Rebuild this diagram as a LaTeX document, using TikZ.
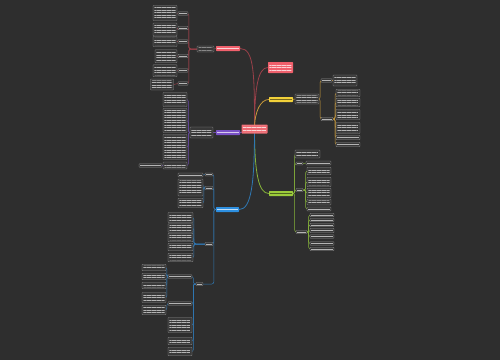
\documentclass[tikz,border=0pt]{standalone}
\usetikzlibrary{patterns.meta}
\definecolor{bgc}{HTML}{2E2E2E}
\definecolor{boxf}{HTML}{383838}
\definecolor{boxd}{HTML}{8C8C8C}
\definecolor{txtc}{HTML}{B4B4B4}
\definecolor{redn}{HTML}{F0606C}
\definecolor{redl}{HTML}{9A4049}
\definecolor{yeln}{HTML}{F2D13A}
\definecolor{yell}{HTML}{C99A3A}
\definecolor{grnn}{HTML}{9CCB3B}
\definecolor{grnl}{HTML}{86B43A}
\definecolor{blun}{HTML}{2D8FE0}
\definecolor{blul}{HTML}{2E78B4}
\definecolor{purn}{HTML}{7A52C7}
\definecolor{purl}{HTML}{6A4AA8}
\definecolor{cenn}{HTML}{EE6B73}
\pgfdeclarelayer{bgl}\pgfdeclarelayer{edg}\pgfsetlayers{bgl,edg,main}
\tikzset{
 multi/.style={path picture={\fill[pattern={Lines[distance=2.5pt,line width=0.8pt]},pattern color=#1] ([shift={(1.4pt,-1.3pt)}]path picture bounding box.north west) rectangle ([shift={(-1.4pt,1.3pt)}]path picture bounding box.south east);}},
 single/.style={path picture={\draw[line width=0.8pt,#1] ([xshift=1.4pt]path picture bounding box.west) -- ([xshift=-1.4pt]path picture bounding box.east);}},
 base/.style 2 args={rectangle, inner sep=0pt, minimum width=#1pt, minimum height=#2pt, rounded corners=0.6pt},
 blk/.style 2 args={base={#1}{#2}, fill=boxf, draw=boxd, line width=0.3pt, multi=txtc},
 lbl/.style 2 args={base={#1}{#2}, fill=boxf, draw=boxd, line width=0.3pt, single=txtc},
 cn/.style n args={3}{base={#2}{#3}, fill=#1},
 mainE/.style={line width=0.8pt},
 subE/.style={line width=0.5pt, rounded corners=2pt},
}
\begin{document}
\begin{tikzpicture}[x=1pt,y=-1pt]
\useasboundingbox (0,0) rectangle (500,360);
\begin{pgfonlayer}{bgl}
\fill[bgc] (0,0) rectangle (500,360);
\end{pgfonlayer}
% center
\node[cn={cenn}{26}{9}, multi=white!72!cenn] (c) at (254.5,129) {};
% main topics
\node[cn={redn}{24}{5}, single=white!72!redn] (r1) at (228,48.5) {};
\node[cn={redn}{25}{11}, multi=white!72!redn] (r2) at (280.5,67.5) {};
\node[cn={yeln}{24}{5}, single=black!50!yeln] (y1) at (281,99.5) {};
\node[cn={purn}{24}{5}, single=white!70!purn] (p1) at (228,132.5) {};
\node[cn={grnn}{24}{5}, single=black!50!grnn] (g1) at (281,193.5) {};
\node[cn={blun}{23}{5}, single=white!70!blun] (b1) at (227.5,209.5) {};
% red subtree
\node[blk={17}{6}] (rt) at (205.5,49) {};
\node[lbl={10}{3.5}] (rl1) at (183,13.5) {};
\node[lbl={10}{3.5}] (rl2) at (183,28) {};
\node[lbl={10}{3.5}] (rl3) at (183,41.5) {};
\node[lbl={10}{3.5}] (rl4) at (183,56) {};
\node[lbl={10}{3.5}] (rl5) at (183,70.5) {};
\node[lbl={10}{3.5}] (rl6) at (183,83.5) {};
\node[blk={24}{15}] (rb1) at (165,13) {};
\node[blk={24}{13}] (rb2) at (165,29.5) {};
\node[blk={24}{10}] (rb3) at (165,41.5) {};
\node[blk={22}{13}] (rb4) at (166,56.3) {};
\node[blk={24}{12}] (rb5) at (165,70.7) {};
\node[blk={23}{11}] (rb6) at (162,84.5) {};
% purple subtree
\node[blk={23}{11}] (pt) at (201.5,132.5) {};
\node[blk={24}{14}] (pb1) at (175,99.5) {};
\node[blk={24}{24}] (pb2) at (175,120.5) {};
\node[blk={24}{25}] (pb3) at (175,147) {};
\node[blk={24}{7}] (pb4) at (175,165.5) {};
\node[lbl={23}{3.5}] (pl) at (150.5,165.5) {};
% yellow subtree
\node[blk={24}{10}] (yt) at (307,99) {};
\node[lbl={11}{3.5}] (yl1) at (326.5,80.5) {};
\node[lbl={12}{3.5}] (yl2) at (327,119) {};
\node[blk={24}{11}] (yb1) at (345,80.5) {};
\node[blk={24}{7.5}] (yc1) at (348,93) {};
\node[blk={24}{8.5}] (yc2) at (348,102.5) {};
\node[blk={24}{10}] (yc3) at (348,114.5) {};
\node[blk={24}{11}] (yc4) at (348,128) {};
\node[lbl={24}{4.5}] (yc5) at (348,137.5) {};
\node[lbl={24}{4.5}] (yc6) at (348,144.5) {};
% green subtree
\node[blk={25}{8}] (gb0) at (307.5,154) {};
\node[lbl={7}{3}] (gl1) at (299.5,163.5) {};
\node[lbl={25}{4}] (gb1) at (318.5,163) {};
\node[lbl={7}{3}] (gl2) at (299.5,190) {};
\node[blk={24}{7.5}] (gc1) at (319,171) {};
\node[blk={24}{9.5}] (gc2) at (319,182) {};
\node[blk={24}{9.5}] (gc3) at (319,193) {};
\node[blk={24}{6}] (gc4) at (319,202) {};
\node[lbl={24}{4}] (gc5) at (319,209) {};
\node[lbl={11}{3}] (gl3) at (301.5,232) {};
\node[lbl={24}{3.5}] (gd1) at (322,215) {};
\node[lbl={24}{3}] (gd2) at (322,220) {};
\node[lbl={24}{3.5}] (gd3) at (322,225) {};
\node[lbl={24}{4.5}] (gd4) at (322,230.5) {};
\node[lbl={24}{3.5}] (gd5) at (322,236.5) {};
\node[lbl={24}{3.5}] (gd6) at (322,243.5) {};
\node[lbl={24}{3.5}] (gd7) at (322,249) {};
% blue subtree
\node[lbl={8}{3}] (bl1) at (209,174.5) {};
\node[lbl={8}{3}] (bl2) at (209,188) {};
\node[lbl={8}{3}] (bl3) at (209,244) {};
\node[lbl={7}{3}] (bl4) at (199.5,284) {};
\node[lbl={25}{4}] (bb1) at (190.5,175) {};
\node[blk={25}{17}] (bb2) at (190.5,187.5) {};
\node[blk={25}{9.5}] (bb3) at (190.5,203) {};
\node[blk={25}{10}] (be1) at (180.5,217.5) {};
\node[blk={25}{8.5}] (be2) at (180.5,228) {};
\node[blk={25}{8.5}] (be3) at (180.5,237.5) {};
\node[blk={25}{7.5}] (be4) at (180.5,247) {};
\node[blk={25}{8.5}] (be5) at (180.5,257.5) {};
\node[lbl={24}{3.5}] (bn1) at (180,276.5) {};
\node[lbl={24}{3.5}] (bn2) at (180,303.5) {};
\node[blk={24}{15}] (bf1) at (180,325) {};
\node[blk={24}{7.5}] (bf2) at (180,341) {};
\node[blk={24}{8.5}] (bf3) at (180,351.5) {};
\node[blk={24}{6.5}] (bg1) at (154,267.5) {};
\node[blk={24}{6.5}] (bg2) at (154,276.5) {};
\node[blk={24}{6.5}] (bg3) at (154,285.5) {};
\node[blk={24}{10}] (bg4) at (154,297.5) {};
\node[blk={24}{9.5}] (bg5) at (154,310) {};
% connectors
\begin{pgfonlayer}{edg}
\draw[mainE,redl] (c.center) to[out=90,in=0,out distance=55pt,in distance=14pt] (r1.east);
\draw[mainE,redl] (c.center) to[out=90,in=180,out distance=40pt,in distance=10pt] (r2.west);
\draw[mainE,yell] (c.center) to[out=90,in=180,out distance=18pt,in distance=8pt] (y1.west);
\draw[mainE,purl] (c.center) to[out=180,in=0] (p1.east);
\draw[mainE,grnl] (c.center) to[out=-90,in=180,out distance=45pt,in distance=10pt] (g1.west);
\draw[mainE,blul] (c.center) to[out=-90,in=0,out distance=55pt,in distance=12pt] (b1.east);
% red
\draw[subE,redl] (r1.west) -- (rt.east);
\foreach \i in {1,...,6}{
 \draw[subE,redl] (rt.west) -- ++(-8,0) |- (rl\i.east);
 \draw[subE,redl] (rl\i.west) -- (rb\i.east);
}
% purple
\draw[subE,purl] (p1.west) -- (pt.east);
\foreach \i in {1,...,4}{\draw[subE,purl] (pt.west) -- ++(-1.5,0) |- (pb\i.east);}
\draw[subE,purl] (pb4.west) -- (pl.east);
% yellow
\draw[subE,yell] (y1.east) -- (yt.west);
\draw[subE,yell] (yt.east) -- ++(1,0) |- (yl1.west);
\draw[subE,yell] (yt.east) -- ++(1,0) |- (yl2.west);
\draw[subE,yell] (yl1.east) -- (yb1.west);
\foreach \i in {1,...,6}{\draw[subE,yell] (yl2.east) -- ++(2,0) |- (yc\i.west);}
% green
\foreach \n in {gb0,gl1,gl2,gl3}{\draw[subE,grnl] (g1.east) -- ++(1.5,0) |- (\n.west);}
\draw[subE,grnl] (gl1.east) -- (gb1.west);
\foreach \i in {1,...,5}{\draw[subE,grnl] (gl2.east) -- ++(2.5,0) |- (gc\i.west);}
\foreach \i in {1,...,7}{\draw[subE,grnl] (gl3.east) -- ++(1.5,0) |- (gd\i.west);}
% blue
\foreach \n in {bl1,bl2,bl3,bl4}{\draw[subE,blul] (b1.west) -- ++(-2,0) |- (\n.east);}
\draw[subE,blul] (bl1.west) -- (bb1.east);
\draw[subE,blul] (bl2.west) -- ++(-1,0) |- (bb2.east);
\draw[subE,blul] (bl2.west) -- ++(-1,0) |- (bb3.east);
\foreach \i in {1,...,5}{\draw[subE,blul] (bl3.west) -- ++(-11,0) |- (be\i.east);}
\foreach \n in {bn1,bn2,bf1,bf2,bf3}{\draw[subE,blul] (bl4.west) -- ++(-2.5,0) |- (\n.east);}
\foreach \i in {1,...,4}{\draw[subE,blul] (bn1.west) -- ++(-1,0) |- (bg\i.east);}
\draw[subE,blul] (bn2.west) -- ++(-1,0) |- (bg5.east);
\end{pgfonlayer}
\end{tikzpicture}
\end{document}
